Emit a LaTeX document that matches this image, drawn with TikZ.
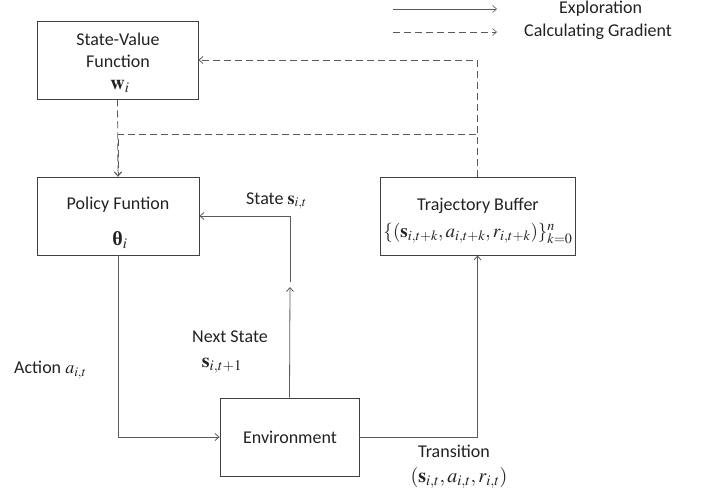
\documentclass[tikz,border=0pt]{standalone}
\usepackage{mathptmx}
\usepackage{graphicx}
\usepackage[no-math]{fontspec}
\setmainfont{Carlito}
\newfontfamily\thetafont{Liberation Serif}
\usetikzlibrary{arrows.meta}
\definecolor{linegray}{HTML}{5A5A5A}
\definecolor{boxgray}{HTML}{404040}
\definecolor{txt}{HTML}{222222}
\tikzset{
  box/.style={draw=boxgray, line width=0.8pt, inner sep=0pt},
  lbl/.style={text=txt, font=\fontsize{18}{20}\selectfont, inner sep=0pt},
  mth/.style={text=txt, font=\fontsize{20}{22}\selectfont, inner sep=0pt},
  flow/.style={draw=linegray, line width=0.8pt, -{Straight Barb[length=4pt,width=7pt]}},
  grad/.style={flow, dash pattern=on 7pt off 4pt},
}
\begin{document}
\begin{tikzpicture}[x=1pt,y=-1pt]
\useasboundingbox (0,0) rectangle (705,496);
% boxes
\node[box, minimum width=161pt, minimum height=78pt] (sv) at (117.5,60) {};
\node[box, minimum width=162pt, minimum height=78pt] (pol) at (118,216) {};
\node[box, minimum width=195pt, minimum height=78pt] (traj) at (477.5,216) {};
\node[box, minimum width=139pt, minimum height=78pt] (env) at (289.5,437) {};
% box texts
\node[lbl] (svt1) at (118,39) {State-Value};
\node[lbl] (svt2) at (118,61) {Function};
\node[mth] (svt3) at (120,86) {$\mathbf{w}_{i}$};
\node[lbl] (polt1) at (118,205) {Policy Funtion};
\node[mth] (polt2) at (120,240) {{\thetafont\bfseries θ}$_{i}$};
\node[lbl] (trajt1) at (478,206) {Trajectory Buffer};
\node[mth] (trajt2) at (478,233) {\resizebox{189pt}{!}{$\{(\mathbf{s}_{i,t+k},a_{i,t+k},r_{i,t+k})\}_{k=0}^{n}$}};
\node[lbl] (envt) at (290,437) {Environment};
% connector labels
\node[lbl, anchor=west] (statel) at (246,201) {State $\mathbf{s}_{i,t}$};
\node[lbl] (nextl1) at (230,337) {Next State};
\node[mth] (nextl2) at (222,366) {$\mathbf{s}_{i,t+1}$};
\node[lbl, anchor=west] (actl) at (14,370) {Action $a_{i,t}$};
\node[lbl] (transl1) at (454,451) {Transition};
\node[mth] (transl2) at (459,478) {$(\mathbf{s}_{i,t},a_{i,t},r_{i,t})$};
% exploration connectors
\coordinate (nsend) at (290,287);
\coordinate (ststart) at (290,282);
\draw[flow] (pol.south) |- (env.west);
\draw[flow] (env.north) -- (nsend);
\draw[flow] (ststart) |- (pol.east);
\draw[flow] (env.east) -| (traj.south);
% gradient connectors
\coordinate (gmid) at (477.5,134);
\draw[grad] (traj.north) |- (sv.east);
\draw[grad] (traj.north) -- (gmid) -| (pol.north);
\draw[grad] (sv.south) -- (pol.north);
% legend
\coordinate (l1a) at (393,9);
\coordinate (l1b) at (497,9);
\coordinate (l2a) at (393,32);
\coordinate (l2b) at (497,32);
\draw[flow, line width=0.6pt] (l1a) -- (l1b);
\draw[grad, line width=0.6pt] (l2a) -- (l2b);
\node[lbl, anchor=west] (leg1) at (559,9) {Exploration};
\node[lbl, anchor=west] (leg2) at (524,32) {Calculating Gradient};
\end{tikzpicture}
\end{document}
